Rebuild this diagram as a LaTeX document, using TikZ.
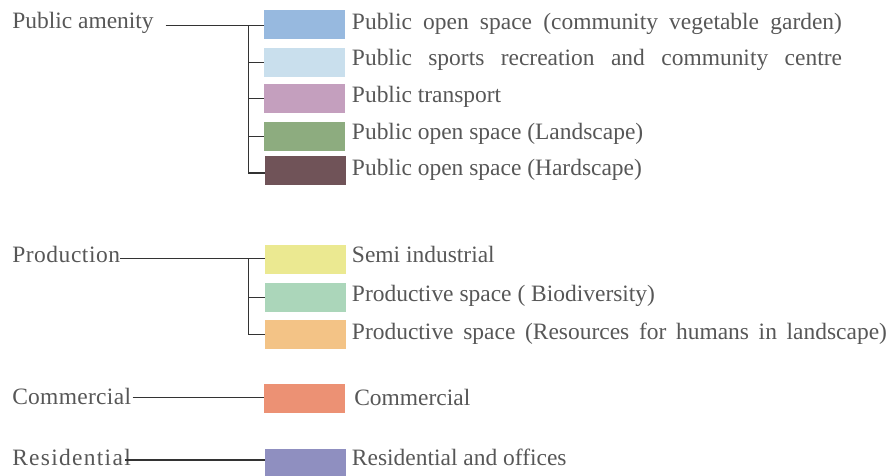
\documentclass[tikz,border=0pt]{standalone}
\usepackage{fontspec}
\setmainfont{Liberation Serif}
\definecolor{txt}{HTML}{575757}
\definecolor{linec}{HTML}{333333}
\definecolor{cA}{HTML}{97B9DF}
\definecolor{cB}{HTML}{C9DFED}
\definecolor{cC}{HTML}{C49FBE}
\definecolor{cD}{HTML}{8DAC7F}
\definecolor{cE}{HTML}{705358}
\definecolor{cF}{HTML}{EBE991}
\definecolor{cG}{HTML}{ABD6BA}
\definecolor{cH}{HTML}{F3C386}
\definecolor{cI}{HTML}{EC9174}
\definecolor{cJ}{HTML}{8F8FC0}
\begin{document}
\begin{tikzpicture}[x=0.75pt,y=-0.75pt,
  swatch/.style={rectangle, draw=none, minimum width=60.75pt, minimum height=21.75pt, inner sep=0pt},
  lbl/.style={anchor=base west, inner sep=0pt, text=txt, font=\fontsize{17.6}{20}\selectfont},
  conn/.style={draw=linec, line width=1pt}]
\useasboundingbox (0,0) rectangle (888,475);
% left category labels
\node[lbl] (pa) at (12,28.3) {Public amenity};
\node[lbl] (pr) at (12,262.3) {\addfontfeatures{LetterSpace=2.3}Production};
\node[lbl] (co) at (12,404) {\addfontfeatures{LetterSpace=1.3}Commercial};
\node[lbl] (re) at (12,465.7) {\addfontfeatures{LetterSpace=5.5}Residential};
% swatches
\node[swatch, fill=cA] (s1) at (304.5,24.5) {};
\node[swatch, fill=cB] (s2) at (304.5,62.5) {};
\node[swatch, fill=cC] (s3) at (304.5,98.5) {};
\node[swatch, fill=cD] (s4) at (304.5,136.5) {};
\node[swatch, fill=cE] (s5) at (305.5,170.5) {};
\node[swatch, fill=cF] (p1) at (305.5,259.3) {};
\node[swatch, fill=cG] (p2) at (305.5,297.3) {};
\node[swatch, fill=cH] (p3) at (305.5,334.3) {};
\node[swatch, fill=cI] (c1) at (304.5,398.3) {};
\node[swatch, fill=cJ] (r1) at (305.5,463.5) {};
% right labels
\node[lbl] (t1) at (351.7,29.3) {\makebox[367.5pt][s]{Public open space (community vegetable garden)}};
\node[lbl] (t2) at (351.7,65.9) {\makebox[367.5pt][s]{Public sports recreation and community centre}};
\node[lbl] (t3) at (351.7,102.4) {Public transport};
\node[lbl] (t4) at (351.7,139.2) {Public open space (Landscape)};
\node[lbl] (t5) at (351.7,175) {Public open space (Hardscape)};
\node[lbl] (t6) at (351.7,262.5) {Semi industrial};
\node[lbl] (t7) at (351.7,301.6) {Productive space ( Biodiversity)};
\node[lbl] (t8) at (351.7,339.3) {\makebox[401.25pt][s]{Productive space (Resources for humans in landscape)}};
\node[lbl] (t9) at (354,405) {Commercial};
\node[lbl] (t10) at (351.7,465.5) {Residential and offices};
% connectors
\coordinate (pa0) at (165.7,25.3);
\coordinate (paT) at (248.7,25.3);
\draw[conn] (pa0) -- (pa0 -| s1.west);
\draw[conn] (paT) |- (s2.west);
\draw[conn] (paT) |- (s3.west);
\draw[conn] (paT) |- (s4.west);
\draw[conn] (paT) |- ([yshift=-1.8pt]s5.west);
\coordinate (pr0) at (120,258.7);
\coordinate (prT) at (248.7,258.7);
\draw[conn] (pr0) -- (pr0 -| p1.west);
\draw[conn] (prT) |- (p2.west);
\draw[conn] (prT) |- (p3.west);
\coordinate (co0) at (132.7,397.3);
\draw[conn] (co0) -- (co0 -| c1.west);
\coordinate (re0) at (125,460);
\draw[conn] (re0) -- (re0 -| r1.west);
\end{tikzpicture}
\end{document}
